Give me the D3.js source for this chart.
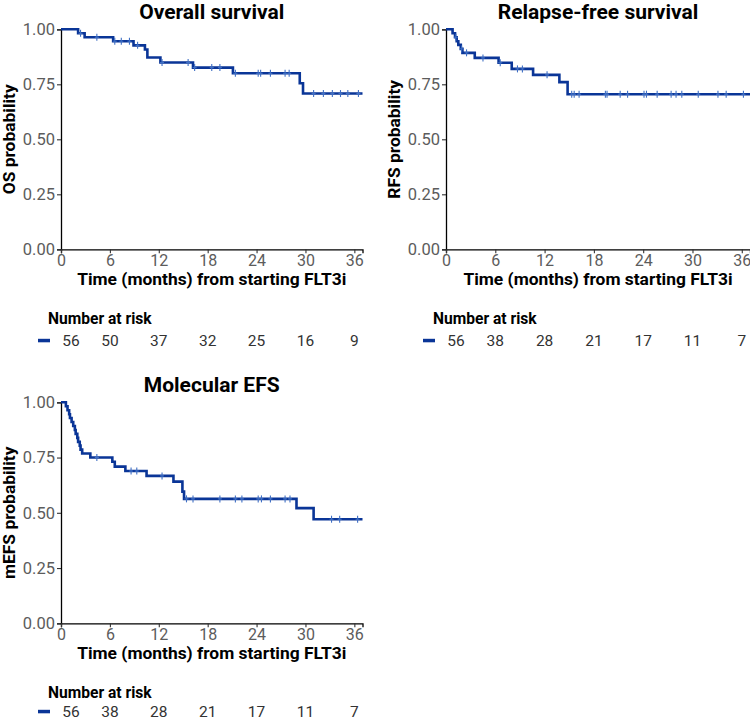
<!DOCTYPE html>
<html>
<head>
<meta charset="utf-8">
<script src="https://cdn.jsdelivr.net/npm/d3@7"></script>
<style>
  body { margin: 0; background: #fff; }
  svg { display: block; font-family: Roboto, "Noto Sans", sans-serif; }
</style>
</head>
<body>
<svg id="chart" width="750" height="721"></svg>
<script>
// ---------- data ----------
const xTicks = [0, 6, 12, 18, 24, 30, 36];
const yTicks = [0, 0.25, 0.5, 0.75, 1];
const yTickLabels = ["0.00", "0.25", "0.50", "0.75", "1.00"];

const osTimes = [0, 2.1, 2.9, 6.4, 8.9, 10.3, 10.6, 12.2, 16.2, 21.1, 29.3, 29.7];
const osSurv  = [1, 0.982, 0.964, 0.946, 0.927, 0.908, 0.872, 0.849, 0.826, 0.800, 0.755, 0.708];
const osCensor = [2.4, 4.4, 6.6, 7.4, 8.4, 9.4, 12.4, 15.6, 16.4, 18.5, 19.5, 21.4, 24.2, 24.5, 25.7, 27.5, 28.0, 31.0, 32.2, 33.3, 34.3, 35.2, 36.5];
const osRisk = [56, 50, 37, 32, 25, 16, 9];

const rfsTimes = [0, 0.8, 1.1, 1.3, 1.5, 1.8, 2.0, 3.5, 6.4, 8.0, 10.6, 13.8, 14.8];
const rfsSurv  = [1, 0.982, 0.964, 0.946, 0.929, 0.911, 0.893, 0.870, 0.848, 0.820, 0.793, 0.760, 0.705];
const rfsCensor = [1.2, 1.9, 2.5, 4.5, 6.6, 8.7, 9.3, 12.3, 15.3, 15.6, 16.2, 19.4, 19.6, 21.2, 22.1, 24.1, 24.4, 25.7, 27.4, 28.0, 28.7, 30.7, 33.1, 34.1, 36.2];
const rfsRisk = [56, 38, 28, 21, 17, 11, 7];

const efsTimes = [0, 0.6, 0.8, 1.0, 1.1, 1.3, 1.5, 1.7, 1.8, 2.0, 2.1, 2.3, 2.4, 2.6, 3.6, 6.3, 6.6, 7.9, 10.5, 13.8, 14.9, 15.1, 28.9, 31.0];
const efsSurv  = [1, 0.982, 0.964, 0.946, 0.929, 0.911, 0.893, 0.875, 0.857, 0.839, 0.821, 0.804, 0.786, 0.768, 0.750, 0.731, 0.709, 0.689, 0.667, 0.641, 0.596, 0.563, 0.521, 0.471];
const efsCensor = [4.4, 8.6, 9.3, 12.4, 15.4, 16.2, 19.5, 21.4, 22.2, 24.2, 24.6, 25.7, 27.5, 28.1, 33.2, 34.2, 36.4];
const efsRisk = [56, 38, 28, 21, 17, 11, 7];

const xMax = 37;

// ---------- layout ----------
const panels = [
  { title: "Overall survival", ylab: "OS probability", times: osTimes, surv: osSurv, censor: osCensor, risk: osRisk,
    left: 61, right: 362.5, top: 29.3, bottom: 249.3, rowOff: 97 },
  { title: "Relapse-free survival", ylab: "RFS probability", times: rfsTimes, surv: rfsSurv, censor: rfsCensor, risk: rfsRisk,
    left: 446, right: 750, top: 29.3, bottom: 249.3, rowOff: 97 },
  { title: "Molecular EFS", ylab: "mEFS probability", times: efsTimes, surv: efsSurv, censor: efsCensor, risk: efsRisk,
    left: 61, right: 362.5, top: 402.3, bottom: 623.3, rowOff: 94 }
];

const lineColor = "#0a3597";
const censorColor = "#3f6fc4";
const svg = d3.select("#chart");

panels.forEach(p => {
  const x = d3.scaleLinear().domain([0, xMax]).range([p.left, p.right]);
  const y = d3.scaleLinear().domain([0, 1]).range([p.bottom, p.top]);
  const g = svg.append("g");

  // title
  g.append("text")
    .attr("x", (p.left + p.right) / 2).attr("y", p.top - 10.5)
    .attr("text-anchor", "middle")
    .attr("font-size", 21).attr("font-weight", "bold").attr("fill", "#000")
    .text(p.title);

  // y axis
  const yAxis = d3.axisLeft(y).tickValues(yTicks)
    .tickFormat((d, i) => yTickLabels[i]).tickSize(4).tickPadding(2);
  const ya = g.append("g").attr("transform", `translate(${p.left},0)`).call(yAxis);
  ya.select(".domain").attr("stroke", "#000").attr("stroke-width", 1.3);
  ya.selectAll(".tick line").attr("stroke", "#333").attr("stroke-width", 1.1);
  ya.selectAll(".tick text").attr("font-size", 16.5).attr("fill", "#5c5c5c")
    .attr("font-family", "Roboto, sans-serif");

  // x axis
  const xAxis = d3.axisBottom(x).tickValues(xTicks).tickSize(4).tickPadding(1.5);
  const xa = g.append("g").attr("transform", `translate(0,${p.bottom})`).call(xAxis);
  xa.select(".domain").attr("stroke", "#000").attr("stroke-width", 1.3);
  xa.selectAll(".tick line").attr("stroke", "#333").attr("stroke-width", 1.1);
  xa.selectAll(".tick text").attr("font-size", 16).attr("fill", "#5c5c5c")
    .attr("font-family", "Roboto, sans-serif");

  // axis titles
  g.append("text")
    .attr("x", (p.left + p.right) / 2).attr("y", p.bottom + 36)
    .attr("text-anchor", "middle")
    .attr("font-size", 17.4).attr("font-weight", "bold").attr("fill", "#000")
    .text("Time (months) from starting FLT3i");
  g.append("text")
    .attr("transform", `translate(${p.left - 46},${(p.top + p.bottom) / 2}) rotate(-90)`)
    .attr("text-anchor", "middle")
    .attr("font-size", 17.4).attr("font-weight", "bold").attr("fill", "#000")
    .text(p.ylab);

  // KM step line
  const pts = p.times.map((t, i) => [t, p.surv[i]]);
  pts.push([xMax, p.surv[p.surv.length - 1]]);
  const line = d3.line().x(d => x(d[0])).y(d => y(d[1])).curve(d3.curveStepAfter);
  g.append("path").datum(pts)
    .attr("d", line).attr("fill", "none")
    .attr("stroke", lineColor).attr("stroke-width", 2.6);

  // censor marks
  const survAt = t => {
    let s = 1;
    p.times.forEach((tt, i) => { if (tt <= t) s = p.surv[i]; });
    return s;
  };
  const cg = g.append("g").attr("stroke", censorColor).attr("stroke-width", 1.1);
  p.censor.forEach(t => {
    const cx = x(t), cy = y(survAt(t));
    cg.append("line").attr("x1", cx).attr("x2", cx).attr("y1", cy - 3.5).attr("y2", cy + 3.5);
    cg.append("line").attr("x1", cx - 2).attr("x2", cx + 2).attr("y1", cy).attr("y2", cy);
  });

  // risk table
  const riskTitleY = p.bottom + 75;
  const riskRowY = p.bottom + p.rowOff;
  g.append("text")
    .attr("x", p.left - 13).attr("y", riskTitleY)
    .attr("font-size", 15.6).attr("font-weight", "bold").attr("fill", "#000")
    .text("Number at risk");
  g.append("rect")
    .attr("x", p.left - 23).attr("y", riskRowY - 7.5)
    .attr("width", 12).attr("height", 3.5)
    .attr("fill", lineColor);
  g.selectAll(".risk").data(p.risk).enter().append("text")
    .attr("x", (d, i) => x(xTicks[i]) + (i === 0 ? 10 : 0))
    .attr("y", riskRowY)
    .attr("text-anchor", "middle")
    .attr("font-size", 15.5).attr("fill", "#333")
    .text(d => d);
});
</script>
</body>
</html>
